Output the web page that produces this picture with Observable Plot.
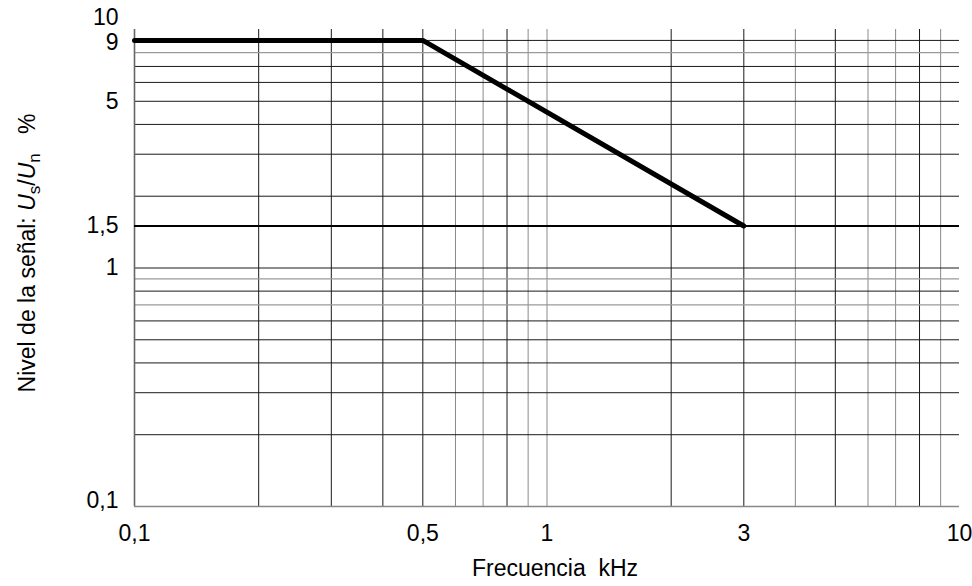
<!DOCTYPE html>
<html>
<head>
<meta charset="utf-8">
<script src="https://cdn.jsdelivr.net/npm/d3@7"></script>
<script src="https://cdn.jsdelivr.net/npm/@observablehq/plot@0.6"></script>
<style>
  html, body { margin: 0; padding: 0; background: #fff; }
</style>
</head>
<body>
<div id="chart"></div>
<script>
// ---- data ----
const limitFreq = [0.1, 0.5, 3];        // kHz
const limitLevel = [9, 9, 1.5];         // %
const flatLevel = [1.5];                // % (horizontal limit line)
const xTicks = [0.1, 0.5, 1, 3, 10];
const yTicks = [1, 1.5, 5];
const yTickNine = [9];
const yTickTop = [10];
const yTickBottom = [0.1];
const xGridDark = [0.2, 0.3, 0.4, 0.5, 0.8, 2, 3, 5, 8];
const xGridLight = [0.6, 0.7, 0.9, 1, 4, 6, 7, 9];
const yGridDark = [0.2, 0.3, 0.4, 0.5, 0.6, 0.8, 1, 2, 3, 4, 5, 6, 7, 9];
const yGridLight = [0.7, 0.9, 8];
const xLabel = "Frecuencia\u00a0\u00a0kHz";

const limit = limitFreq.map((f, i) => ({f, v: limitLevel[i]}));
const fmt = d => String(d).replace(".", ",");
const font = "'Liberation Sans', Arial, Helvetica, sans-serif";
const fs = 23;
const yLab = (data, dy) => Plot.text(data, {y: d => d, frameAnchor: "left", textAnchor: "end", dx: -16, dy, text: fmt, fontSize: fs, fill: "#000"});

const plot = Plot.plot({
  width: 972,
  height: 586,
  marginLeft: 134,
  marginRight: 13,
  marginTop: 29,
  marginBottom: 80,
  style: {fontFamily: font, fontSize: fs + "px", background: "#fff", color: "#000"},
  x: {type: "log", domain: [0.1, 10], axis: null},
  y: {type: "log", domain: [0.1, 10], axis: null},
  marks: [
    Plot.ruleX(xGridLight, {stroke: "#8a8a8a", strokeWidth: 1}),
    Plot.ruleX(xGridDark, {stroke: "#1a1a1a", strokeWidth: 1}),
    Plot.ruleY(yGridLight, {stroke: "#9a9a9a", strokeWidth: 1.2}),
    Plot.ruleY(yGridDark, {stroke: "#1a1a1a", strokeWidth: 1}),
    Plot.ruleX([0.1], {stroke: "#666", strokeWidth: 1.6}),
    Plot.ruleY([0.1], {stroke: "#888", strokeWidth: 1.6}),
    Plot.ruleY(flatLevel, {stroke: "#000", strokeWidth: 2.2}),
    Plot.line(limit, {x: "f", y: "v", stroke: "#000", strokeWidth: 5, strokeLinejoin: "miter"}),
    // x tick labels
    Plot.text(xTicks, {x: d => d, frameAnchor: "bottom", lineAnchor: "top", dy: 18, text: fmt, fontSize: fs, fill: "#000"}),
    // y tick labels
    yLab(yTicks, 0),
    yLab(yTickNine, 2),
    yLab(yTickTop, -12),
    yLab(yTickBottom, -6),
    // x axis title
    Plot.text([xLabel], {frameAnchor: "bottom", dy: 69, dx: 8, text: d => d, fontSize: fs, fill: "#000"})
  ]
});

// y-axis title with italic symbols and subscripts
const svg = d3.select(plot);
const t = svg.append("text")
  .attr("transform", "translate(35,253) rotate(-90)")
  .attr("text-anchor", "middle")
  .attr("font-family", font)
  .attr("font-size", fs)
  .attr("fill", "#000");
t.append("tspan").text("Nivel de la señal: ");
t.append("tspan").attr("font-style", "italic").text("U");
t.append("tspan").attr("font-size", 17).attr("dy", 5).text("s");
t.append("tspan").attr("dy", -5).text("/");
t.append("tspan").attr("font-style", "italic").text("U");
t.append("tspan").attr("font-size", 17).attr("dy", 5).text("n");
t.append("tspan").attr("dy", -5).text("\u00a0\u00a0\u00a0%");

document.getElementById("chart").appendChild(plot);
</script>
</body>
</html>
